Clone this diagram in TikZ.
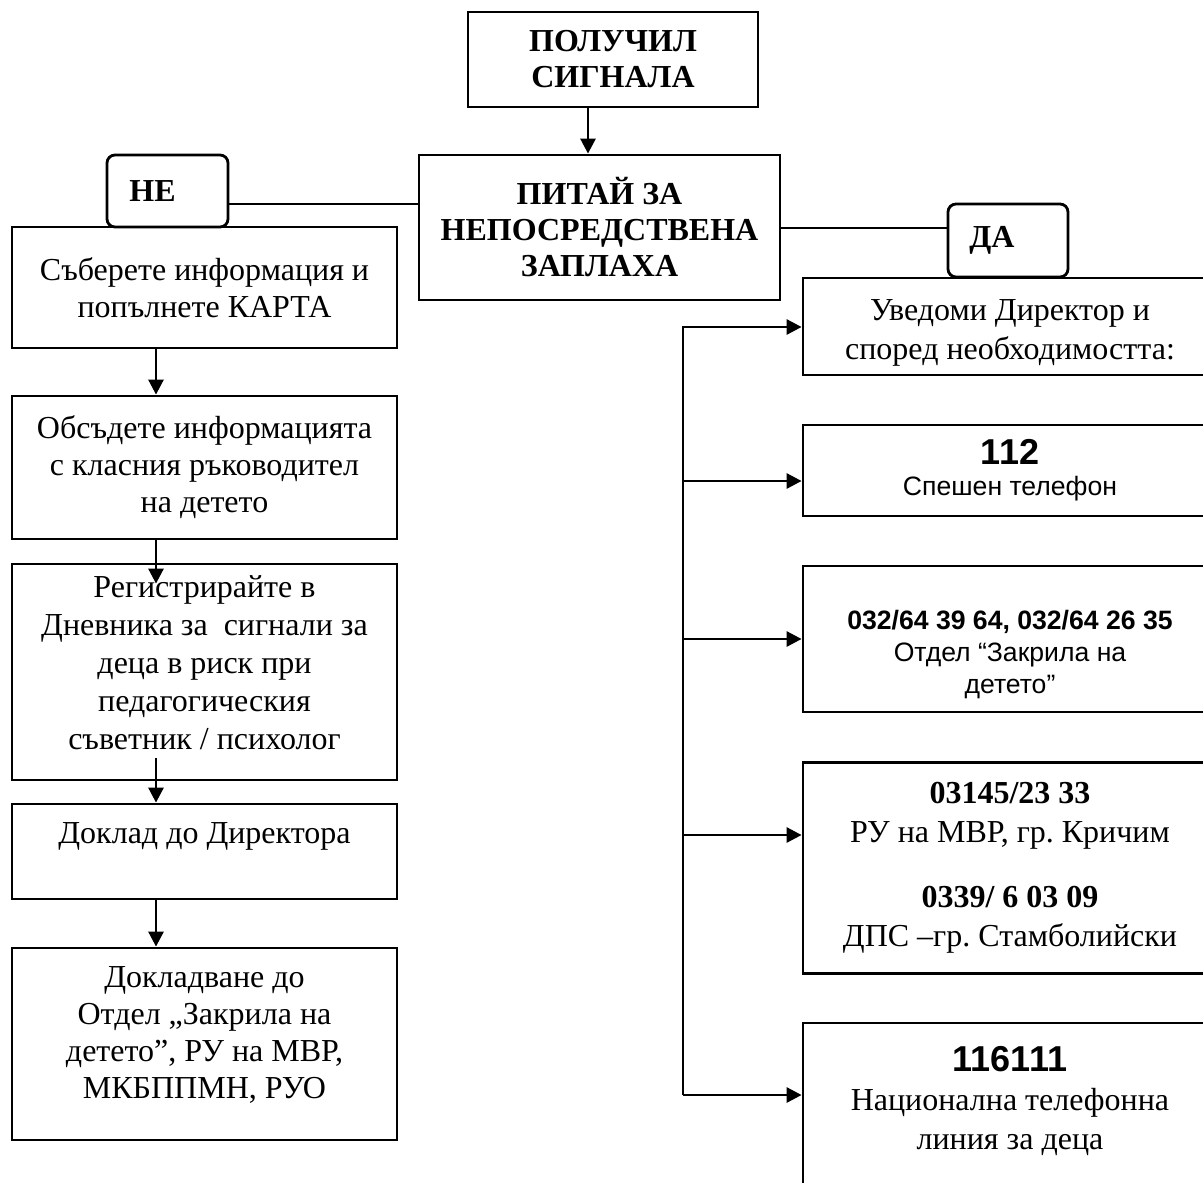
\documentclass[tikz,border=0pt]{standalone}
\usepackage{fontspec}
\setmainfont{Liberation Serif}
\setsansfont{Liberation Sans}
\usepackage{tikz}
\usetikzlibrary{arrows.meta}
\frenchspacing
\tikzstyle{box} = [rectangle, draw=black, line width=1.4pt, inner sep=0pt, align=center, font=\fontsize{16}{18.5}\selectfont]
\tikzstyle{answer} = [rectangle, rounded corners=4pt, draw=black, line width=1.4pt, inner sep=0pt, font=\bfseries\fontsize{16}{18.5}\selectfont]
\tikzstyle{link} = [line width=1.4pt]
\tikzstyle{arr} = [line width=1.4pt, -{Triangle[length=7.5pt,width=7.5pt]}]

\begin{document}
\begin{tikzpicture}[x=0.5pt,y=-0.5pt]
\useasboundingbox (0,0) rectangle (1203,1182);

% top of the chart
\node (top) [box, font=\bfseries\fontsize{16}{18}\selectfont, minimum width=145pt, minimum height=47.5pt] at (613,59.5) {ПОЛУЧИЛ\\СИГНАЛА};
\node (ask) [box, font=\bfseries\fontsize{16}{18}\selectfont, minimum width=180.5pt, minimum height=72.5pt] at (599.5,227.5) {ПИТАЙ ЗА\\НЕПОСРЕДСТВЕНА\\ЗАПЛАХА};
\node (no) [answer, minimum width=60.5pt, minimum height=36pt] at (167.5,191) {НЕ\hspace*{15pt}};
\node (yes) [answer, minimum width=60pt, minimum height=36.5pt] at (1008,240.5) {ДА\hspace*{16pt}};

% left column
\node (left1) [box, minimum width=192.5pt, minimum height=60.5pt] at (204.5,287.5) {Съберете информация и\\попълнете КАРТА};
\node (left2) [box, minimum width=192.5pt, minimum height=71.5pt] at (204.5,467.5) {Обсъдете информацията\\с класния ръководител\\на детето};
\node (left3) [box, font=\fontsize{16}{19}\selectfont, minimum width=192.5pt, minimum height=108pt] at (204.5,672) {Регистрирайте в\\Дневника за~ сигнали за\\деца в риск при\\педагогическия\\съветник / психолог\rule[-9pt]{0pt}{1pt}};
\node (left4) [box, minimum width=192.5pt, minimum height=47.5pt] at (204.5,851.5) {Доклад до Директора\\~};
\node (left5) [box, minimum width=192.5pt, minimum height=96pt] at (204.5,1044) {Докладване до\\Отдел „Закрила на\\детето”, РУ на МВР,\\МКБППМН, РУО\rule[-11pt]{0pt}{1pt}};

% right column
\node (right1) [box, font=\fontsize{16}{19.5}\selectfont, minimum width=207pt, minimum height=48.5pt] at (1010,326.5) {\rule{0pt}{17pt}Уведоми Директор и\\според необходимостта:};
\node (right2) [box, font=\sffamily\fontsize{13.3}{15.5}\selectfont, minimum width=207pt, minimum height=45.5pt] at (1010,470.5) {{\bfseries\fontsize{18}{20}\selectfont 112}\\Спешен телефон};
\node (right3) [box, font=\sffamily\fontsize{13.3}{16}\selectfont, minimum width=207pt, minimum height=73pt] at (1010,639) {\rule{0pt}{25.5pt}{\bfseries 032/64 39 64, 032/64 26 35}\\Отдел “Закрила на\\детето”};
\node (right4) [box, font=\fontsize{16}{19.5}\selectfont, minimum width=207pt, minimum height=105.5pt] at (1010,868) {\textbf{03145/23 33}\\РУ на МВР, гр. Кричим\\[13pt]\textbf{0339/ 6 03 09}\\ДПС –гр. Стамболийски};
\node (right5) [box, font=\fontsize{16}{19.5}\selectfont, minimum width=207pt, minimum height=113.5pt] at (1010,1136.5) {{\sffamily\bfseries\fontsize{18}{20}\selectfont 116111}\\Национална телефонна\\линия за деца\\~\\~};

% connectors
\coordinate (tx) at (588,0);
\coordinate (lx) at (156,0);
\coordinate (nopoint) at ([yshift=-6.5pt]no.east);
\coordinate (yespoint) at ([yshift=6.25pt]yes.west);
\coordinate (left3top) at ([yshift=-10.5pt]left3.north);
\coordinate (left3low) at ([yshift=11.5pt]left3.south);
\coordinate (bus1) at (683,327);
\coordinate (bus2) at (683,481);
\coordinate (bus3) at (683,639);
\coordinate (bus4) at (683,835);
\coordinate (bus5) at (683,1095);

\draw[arr] (top.south -| tx) -- (ask.north -| tx);
\draw[link] (nopoint) -- (nopoint -| ask.west);
\draw[link] (yespoint -| ask.east) -- (yespoint);

\draw[arr] (left1.south -| lx) -- (left2.north -| lx);
\draw[arr] (left2.south -| lx) -- (left3top -| lx);
\draw[arr] (left3low -| lx) -- (left4.north -| lx);
\draw[arr] (left4.south -| lx) -- (left5.north -| lx);

\draw[arr] (bus5) -- (bus1) -- (bus1 -| right1.west);
\draw[arr] (bus2) -- (bus2 -| right2.west);
\draw[arr] (bus3) -- (bus3 -| right3.west);
\draw[arr] (bus4) -- (bus4 -| right4.west);
\draw[arr] (bus5) -- (bus5 -| right5.west);
\end{tikzpicture}
\end{document}
